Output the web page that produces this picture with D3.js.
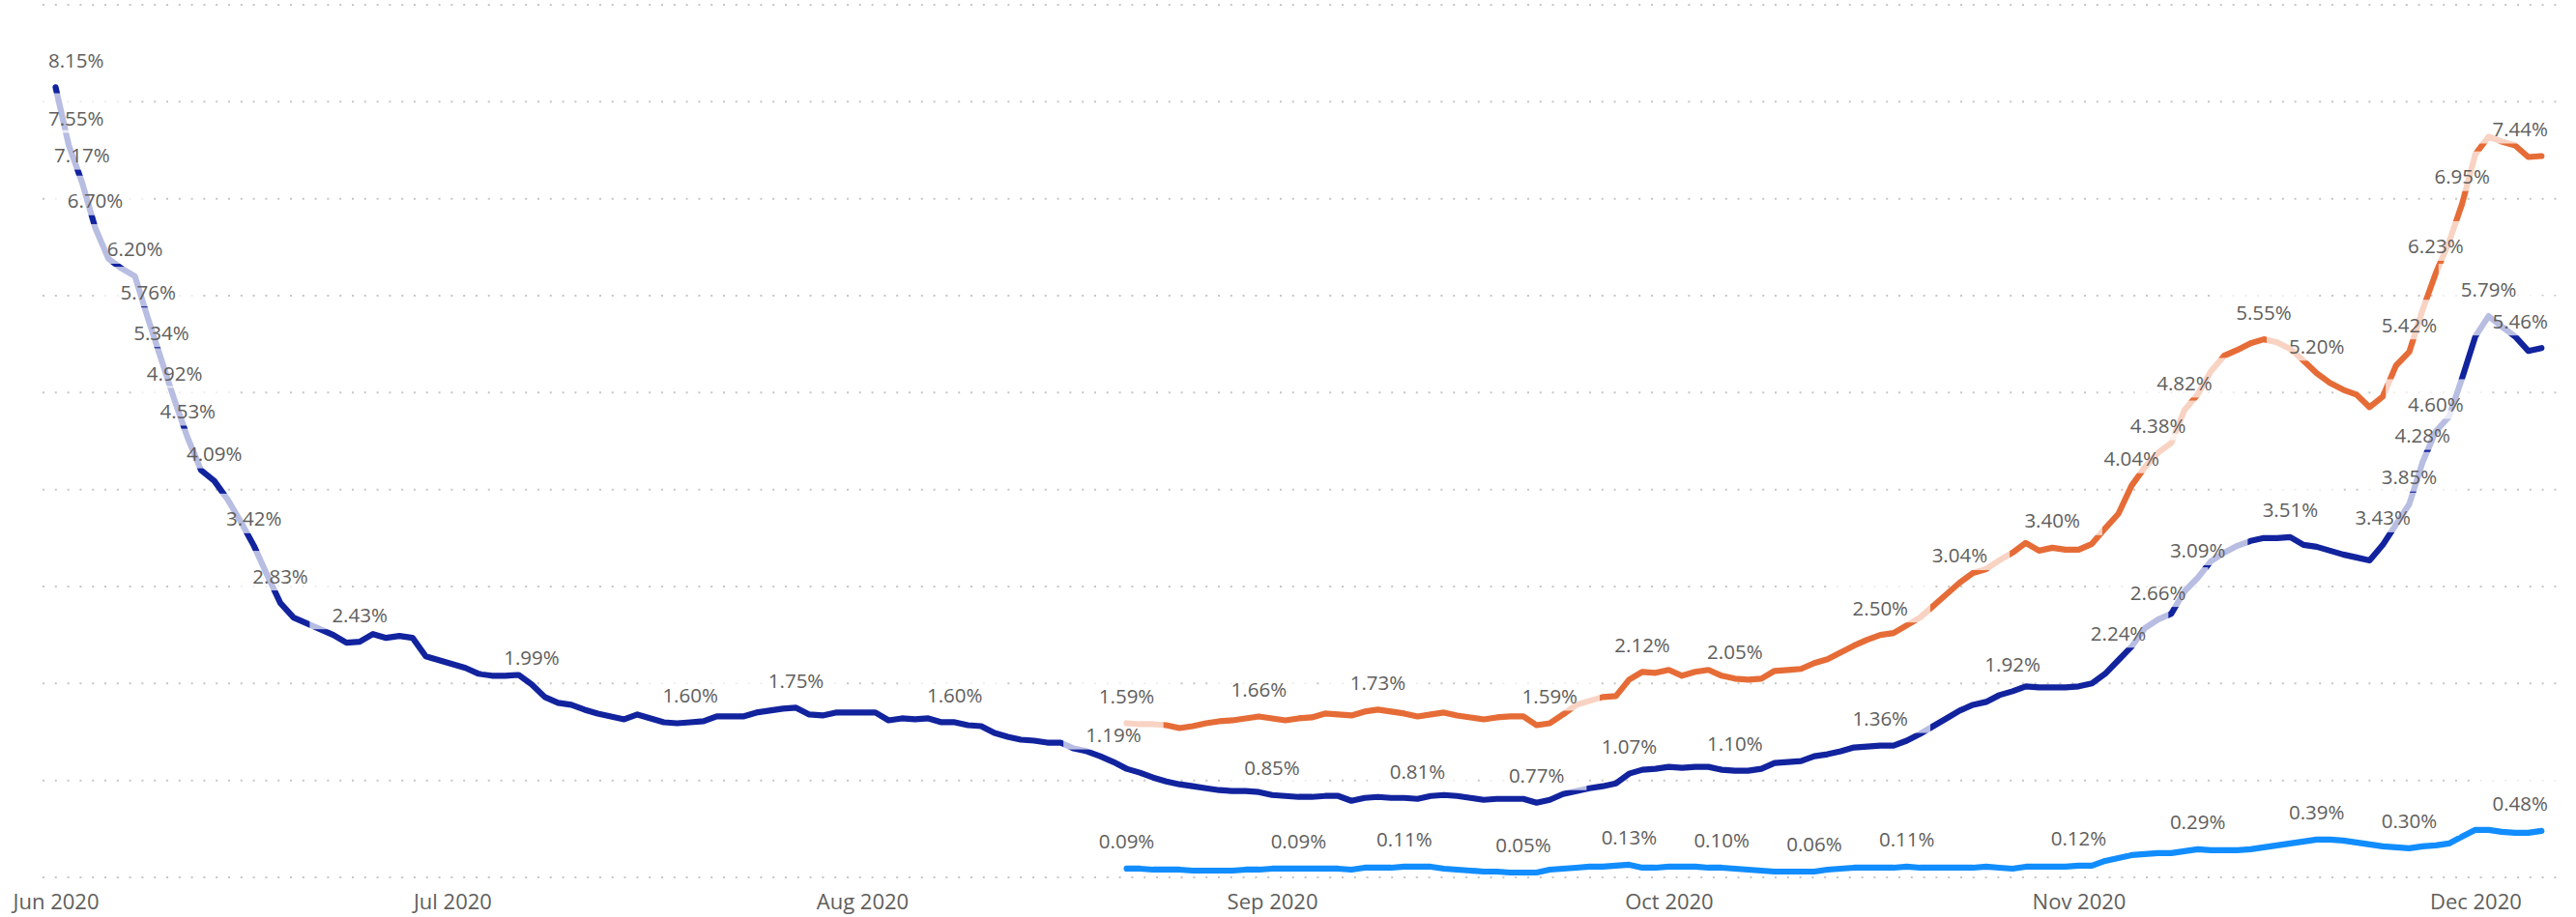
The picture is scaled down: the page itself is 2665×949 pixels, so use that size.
<!DOCTYPE html>
<html>
<head>
<meta charset="utf-8">
<script src="https://cdnjs.cloudflare.com/ajax/libs/d3/7.8.5/d3.min.js"></script>
<style>
body { margin: 0; background: #ffffff; }
svg { display: block; font-family: "Segoe UI", "Open Sans", sans-serif; }
</style>
</head>
<body>
<div class="chart"></div>
<script>
var width = 2665
var height = 949

// daily values (%), one per day from the start date
var darkStart = '2020-06-01'
var darkValues = [
    8.15, 7.55, 7.17, 6.70, 6.38, 6.28, 6.20, 5.76, 5.34, 4.92,
    4.53, 4.20, 4.09, 3.90, 3.67, 3.42, 3.12, 2.83, 2.68, 2.62,
    2.56, 2.50, 2.42, 2.43, 2.51, 2.47, 2.49, 2.47, 2.28, 2.24,
    2.20, 2.16, 2.10, 2.08, 2.08, 2.09, 1.99, 1.86, 1.80, 1.78,
    1.73, 1.69, 1.66, 1.63, 1.68, 1.64, 1.60, 1.59, 1.60, 1.61,
    1.66, 1.66, 1.66, 1.70, 1.72, 1.74, 1.75, 1.68, 1.67, 1.70,
    1.70, 1.70, 1.70, 1.62, 1.64, 1.63, 1.64, 1.60, 1.60, 1.57,
    1.56, 1.49, 1.45, 1.42, 1.41, 1.39, 1.39, 1.33, 1.30, 1.25,
    1.19, 1.12, 1.08, 1.03, 0.99, 0.96, 0.94, 0.92, 0.90, 0.89,
    0.89, 0.88, 0.85, 0.84, 0.83, 0.83, 0.84, 0.84, 0.79, 0.82,
    0.83, 0.82, 0.82, 0.81, 0.84, 0.85, 0.84, 0.82, 0.80, 0.81,
    0.81, 0.81, 0.77, 0.80, 0.86, 0.89, 0.92, 0.94, 0.97, 1.07,
    1.11, 1.12, 1.14, 1.13, 1.14, 1.14, 1.11, 1.10, 1.10, 1.12,
    1.18, 1.19, 1.20, 1.25, 1.27, 1.30, 1.34, 1.35, 1.36, 1.36,
    1.41, 1.48, 1.56, 1.64, 1.72, 1.78, 1.81, 1.88, 1.92, 1.97,
    1.96, 1.96, 1.96, 1.97, 2.00, 2.10, 2.24, 2.38, 2.57, 2.66,
    2.72, 2.95, 3.09, 3.26, 3.35, 3.42, 3.47, 3.50, 3.50, 3.51,
    3.43, 3.41, 3.37, 3.33, 3.30, 3.27, 3.43, 3.64, 3.85, 4.28,
    4.60, 4.75, 5.15, 5.58, 5.79, 5.68, 5.58, 5.43, 5.46
]
var darkLabelDates = [
    '2020-06-01', '2020-06-02', '2020-06-03', '2020-06-04', '2020-06-07', '2020-06-08',
    '2020-06-09', '2020-06-10', '2020-06-11', '2020-06-13', '2020-06-16', '2020-06-18',
    '2020-06-24', '2020-07-07', '2020-07-19', '2020-07-27', '2020-08-08', '2020-08-20',
    '2020-09-01', '2020-09-12', '2020-09-21', '2020-09-28', '2020-10-06', '2020-10-17',
    '2020-10-27', '2020-11-04', '2020-11-07', '2020-11-10', '2020-11-17', '2020-11-24',
    '2020-11-26', '2020-11-27', '2020-11-28', '2020-12-02', '2020-12-06'
]

var orangeStart = '2020-08-21'
var orangeValues = [
    1.59, 1.58, 1.58, 1.57, 1.54, 1.56, 1.59, 1.61, 1.62, 1.64,
    1.66, 1.64, 1.62, 1.64, 1.65, 1.69, 1.68, 1.67, 1.71, 1.73,
    1.71, 1.69, 1.66, 1.68, 1.70, 1.67, 1.65, 1.63, 1.65, 1.66,
    1.66, 1.57, 1.59, 1.68, 1.78, 1.82, 1.86, 1.87, 2.04, 2.12,
    2.11, 2.14, 2.08, 2.12, 2.14, 2.08, 2.05, 2.04, 2.05, 2.13,
    2.14, 2.15, 2.21, 2.25, 2.32, 2.39, 2.45, 2.50, 2.52, 2.60,
    2.68, 2.80, 2.92, 3.04, 3.14, 3.18, 3.27, 3.35, 3.45, 3.37,
    3.40, 3.38, 3.38, 3.44, 3.60, 3.75, 4.04, 4.23, 4.38, 4.48,
    4.82, 4.98, 5.22, 5.38, 5.44, 5.51, 5.55, 5.52, 5.45, 5.33,
    5.20, 5.10, 5.03, 4.98, 4.85, 4.96, 5.28, 5.42, 5.85, 6.23,
    6.55, 6.95, 7.46, 7.64, 7.59, 7.55, 7.43, 7.44
]
var orangeLabelDates = [
    '2020-08-21', '2020-08-31', '2020-09-09', '2020-09-22', '2020-09-29', '2020-10-06',
    '2020-10-17', '2020-10-23', '2020-10-30', '2020-11-05', '2020-11-07', '2020-11-09',
    '2020-11-15', '2020-11-19', '2020-11-26', '2020-11-28', '2020-11-30', '2020-12-06'
]

var lightStart = '2020-08-21'
var lightValues = [
    0.09, 0.09, 0.08, 0.08, 0.08, 0.07, 0.07, 0.07, 0.07, 0.08,
    0.08, 0.09, 0.09, 0.09, 0.09, 0.09, 0.09, 0.08, 0.10, 0.10,
    0.10, 0.11, 0.11, 0.11, 0.09, 0.08, 0.07, 0.06, 0.06, 0.05,
    0.05, 0.05, 0.08, 0.09, 0.10, 0.11, 0.11, 0.12, 0.13, 0.10,
    0.10, 0.11, 0.11, 0.11, 0.10, 0.10, 0.09, 0.08, 0.07, 0.06,
    0.06, 0.06, 0.06, 0.08, 0.09, 0.10, 0.10, 0.10, 0.10, 0.11,
    0.10, 0.10, 0.10, 0.10, 0.10, 0.11, 0.10, 0.09, 0.11, 0.11,
    0.11, 0.11, 0.12, 0.12, 0.17, 0.20, 0.23, 0.24, 0.25, 0.25,
    0.27, 0.29, 0.28, 0.28, 0.28, 0.29, 0.31, 0.33, 0.35, 0.37,
    0.39, 0.39, 0.38, 0.36, 0.34, 0.32, 0.31, 0.30, 0.32, 0.33,
    0.35, 0.42, 0.49, 0.49, 0.47, 0.46, 0.46, 0.48
]
var lightLabelDates = [
    '2020-08-21', '2020-09-03', '2020-09-11', '2020-09-20', '2020-09-28', '2020-10-05',
    '2020-10-12', '2020-10-19', '2020-11-01', '2020-11-10', '2020-11-19', '2020-11-26',
    '2020-12-06'
]

var xDomain = ['2020-06-01', '2020-12-06']
var yDomain = [0, 9]

var parseDate = d3.utcParse('%Y-%m-%d')
var fmtValue = function (v) { return d3.format('.2f')(v) + '%' }

function buildSeries(start, values) {
    var first = parseDate(start)
    return values.map(function (v, i) {
        return { date: d3.utcDay.offset(first, i), value: v }
    })
}

function chart() {
    var series = [
        { color: '#12239E', data: buildSeries(darkStart, darkValues), labels: darkLabelDates },
        { color: '#E66C37', data: buildSeries(orangeStart, orangeValues), labels: orangeLabelDates },
        { color: '#118DFF', data: buildSeries(lightStart, lightValues), labels: lightLabelDates }
    ]

    var x = d3.scaleUtc()
        .domain(xDomain.map(parseDate))
        .range([57.5, 2629.3])

    var y = d3.scaleLinear()
        .domain(yDomain)
        .range([908, 5])

    var svg = d3.select('.chart').append('svg')
        .attr('width', width)
        .attr('height', height)

    // dotted gridlines
    svg.append('g').selectAll('line')
        .data(y.ticks(9))
        .enter()
        .append('line')
        .attr('x1', 44)
        .attr('x2', 2650)
        .attr('y1', function (d) { return y(d) })
        .attr('y2', function (d) { return y(d) })
        .attr('stroke', '#c8c6c4')
        .attr('stroke-width', 2)
        .attr('stroke-dasharray', '2,10.8')

    var xAxis = svg.append('g')
        .attr('transform', 'translate(0,908)')
        .call(d3.axisBottom(x)
            .ticks(d3.utcMonth.every(1))
            .tickFormat(d3.utcFormat('%b %Y'))
            .tickSize(0)
            .tickPadding(17.4))
    xAxis.select('.domain').remove()
    xAxis.selectAll('text')
        .attr('fill', '#605E5C')
        .style('font-size', '22px')
        .style('font-family', '"Segoe UI", "Open Sans", sans-serif')

    var line = d3.line()
        .x(function (d) { return x(d.date) })
        .y(function (d) { return y(d.value) })

    svg.append('g').selectAll('path')
        .data(series)
        .enter()
        .append('path')
        .attr('d', function (d) { return line(d.data) })
        .attr('fill', 'none')
        .attr('stroke', function (d) { return d.color })
        .attr('stroke-width', 6.2)
        .attr('stroke-linejoin', 'round')
        .attr('stroke-linecap', 'round')

    // data labels, each on a half transparent white box
    var points = []
    series.forEach(function (s) {
        s.labels.forEach(function (ds) {
            var t = parseDate(ds).getTime()
            var p = s.data.find(function (d) { return d.date.getTime() === t })
            if (p) points.push(p)
        })
    })

    var boxLayer = svg.append('g')
    var textLayer = svg.append('g')

    points.forEach(function (p) {
        var px = x(p.date)
        var py = y(p.value)
        var txt = textLayer.append('text')
            .attr('y', py - 20.5)
            .attr('fill', '#605E5C')
            .style('font-size', '20.5px')
            .attr('text-anchor', 'middle')
            .text(fmtValue(p.value))
        var w = txt.node().getComputedTextLength()
        var cx = Math.max(50 + w / 2, Math.min(2636 - w / 2, px))
        txt.attr('x', cx)
        boxLayer.append('rect')
            .attr('x', cx - w / 2 - 23)
            .attr('y', py - 54)
            .attr('width', w + 46)
            .attr('height', 41)
            .attr('fill', '#ffffff')
            .attr('fill-opacity', 0.7)
    })
}

chart()
</script>
</body>
</html>
